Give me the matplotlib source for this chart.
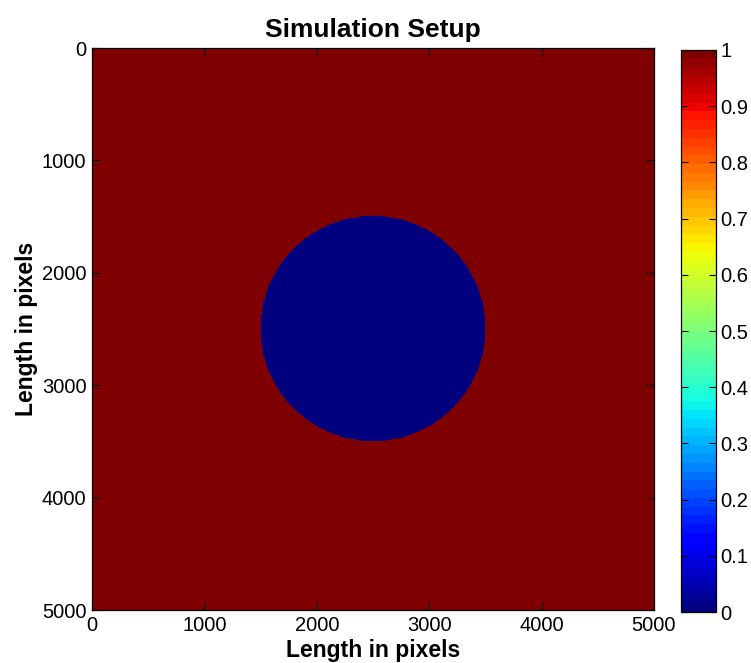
import numpy as np
import matplotlib.pyplot as plt
from matplotlib.colors import ListedColormap

plt.rcParams['font.family'] = ['Liberation Sans', 'DejaVu Sans']

# domain and inclusion
domain_size = 5000
n_cells = 1000
circle_center = (2500, 2500)
circle_radius = 1000
inside_value = 0.0
outside_value = 1.0

axis_ticks = [0, 1000, 2000, 3000, 4000, 5000]
cbar_ticks = [0, 0.1, 0.2, 0.3, 0.4, 0.5, 0.6, 0.7, 0.8, 0.9, 1]
cbar_labels = ['0', '0.1', '0.2', '0.3', '0.4', '0.5', '0.6', '0.7', '0.8', '0.9', '1']

step = domain_size / n_cells
coords = (np.arange(n_cells) + 0.5) * step
xx, yy = np.meshgrid(coords, coords)
field = np.where((xx - circle_center[0])**2 + (yy - circle_center[1])**2 <= circle_radius**2,
                 inside_value, outside_value)

# matlab style jet, 64 levels
jet64 = ListedColormap(plt.get_cmap('jet')(np.linspace(0, 1, 64)))

fig = plt.figure(figsize=(7.51, 6.63), dpi=100)
ax = fig.add_axes([0.1225, 0.0799, 0.7483, 0.8477])
cax = fig.add_axes([0.9068, 0.0769, 0.0466, 0.8477])

im = ax.imshow(field, cmap=jet64, vmin=0, vmax=1, extent=[0, domain_size, domain_size, 0],
               interpolation='nearest', aspect='auto')
ax.set_xlim(0, domain_size)
ax.set_ylim(domain_size, 0)
ax.set_xticks(axis_ticks)
ax.set_yticks(axis_ticks)
ax.tick_params(direction='in', length=6, width=0.8, labelsize=14.5, top=True, right=True, pad=4)
for s in ax.spines.values():
    s.set_linewidth(0.9)

ax.set_title('Simulation Setup', fontsize=19, fontweight='bold', pad=8)
ax.set_xlabel('Length in pixels', fontsize=16.5, fontweight='bold', labelpad=3)
ax.set_ylabel('Length in pixels', fontsize=16.5, fontweight='bold', labelpad=3)

cb = fig.colorbar(im, cax=cax, ticks=cbar_ticks)
cb.ax.set_yticklabels(cbar_labels)
cb.ax.tick_params(direction='in', length=5, width=0.8, labelsize=14.5, left=True, right=True, pad=3)
cb.outline.set_linewidth(0.9)

plt.savefig('out.png', dpi=100)
